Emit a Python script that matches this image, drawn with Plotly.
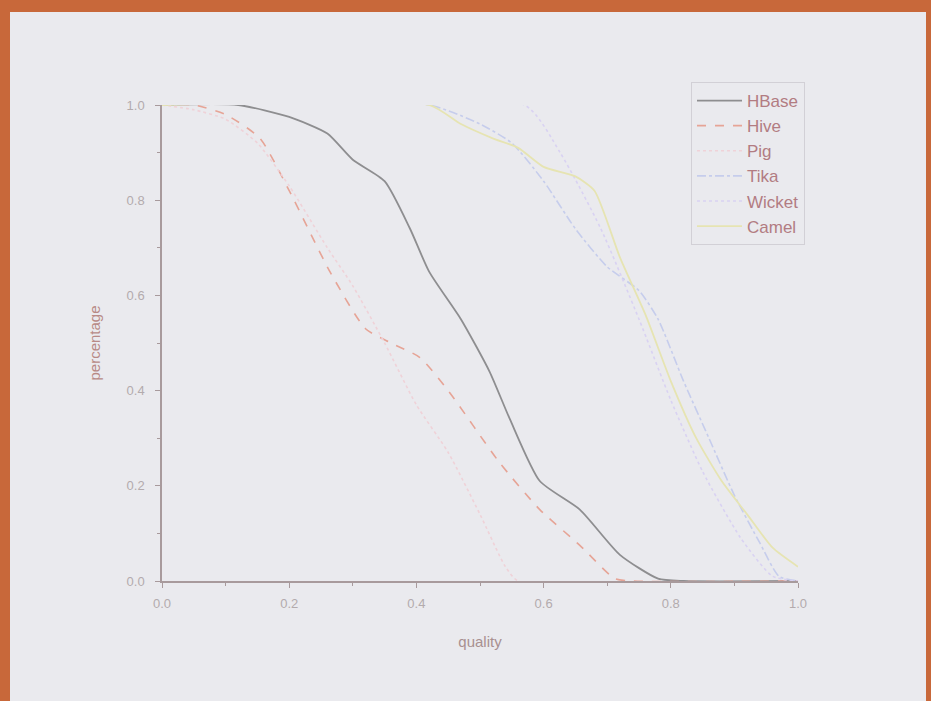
import plotly.graph_objects as go

# ---- data ----
hbase_x = [0.0, 0.12, 0.2, 0.26, 0.30, 0.35, 0.39, 0.42, 0.47, 0.515, 0.547, 0.594, 0.657, 0.72, 0.78, 0.82, 1.0]
hbase_y = [1.0, 1.0, 0.975, 0.94, 0.885, 0.84, 0.74, 0.65, 0.55, 0.44, 0.34, 0.21, 0.15, 0.055, 0.005, 0.0, 0.0]

hive_x = [0.0, 0.05, 0.1, 0.154, 0.2, 0.264, 0.32, 0.36, 0.405, 0.45, 0.53, 0.594, 0.657, 0.712, 0.74, 1.0]
hive_y = [1.0, 1.0, 0.98, 0.93, 0.82, 0.65, 0.53, 0.50, 0.47, 0.40, 0.25, 0.15, 0.075, 0.005, 0.0, 0.0]

pig_x = [0.0, 0.05, 0.1, 0.15, 0.2, 0.26, 0.3, 0.35, 0.4, 0.45, 0.5, 0.54, 0.56, 1.0]
pig_y = [1.0, 0.99, 0.97, 0.92, 0.83, 0.70, 0.62, 0.50, 0.37, 0.27, 0.14, 0.03, 0.0, 0.0]

tika_x = [0.0, 0.42, 0.5, 0.55, 0.6, 0.65, 0.7, 0.75, 0.78, 0.82, 0.86, 0.9, 0.94, 0.97, 1.0]
tika_y = [1.0, 1.0, 0.96, 0.92, 0.84, 0.74, 0.66, 0.61, 0.55, 0.42, 0.30, 0.18, 0.08, 0.01, 0.0]

wicket_x = [0.0, 0.57, 0.626, 0.69, 0.75, 0.80, 0.85, 0.91, 0.96, 1.0]
wicket_y = [1.0, 1.0, 0.90, 0.74, 0.55, 0.38, 0.23, 0.09, 0.01, 0.0]

camel_x = [0.0, 0.42, 0.47, 0.52, 0.56, 0.6, 0.65, 0.68, 0.72, 0.76, 0.8, 0.84, 0.88, 0.92, 0.96, 1.0]
camel_y = [1.0, 1.0, 0.96, 0.93, 0.91, 0.87, 0.85, 0.82, 0.68, 0.56, 0.42, 0.30, 0.21, 0.14, 0.07, 0.03]

tick_vals = [0.0, 0.2, 0.4, 0.6, 0.8, 1.0]
tick_text = ["0.0", "0.2", "0.4", "0.6", "0.8", "1.0"]

series = [
    ("HBase", hbase_x, hbase_y, "#8e8e90", "solid", 1.8),
    ("Hive", hive_x, hive_y, "#e6a496", "dash", 1.6),
    ("Pig", pig_x, pig_y, "#efd2d8", "dot", 1.6),
    ("Tika", tika_x, tika_y, "#c6cdec", "dashdot", 1.6),
    ("Wicket", wicket_x, wicket_y, "#d9d2f2", "dot", 1.6),
    ("Camel", camel_x, camel_y, "#e6e4b2", "solid", 1.8),
]

fig = go.Figure()
for name, xs, ys, col, dash, w in series:
    fig.add_trace(go.Scatter(
        x=xs, y=ys, name=name, mode="lines",
        line=dict(color=col, dash=dash, width=w, shape="spline", smoothing=0.6),
    ))

W, H = 931, 701
L, R, T, B = 162, 133, 105, 120
pw, ph = W - L - R, H - T - B

def px2paper_x(p):
    return (p - L) / pw

def px2paper_y(p):
    return 1 + (T - p) / ph

axis_col = "#a89a9c"
tick_font = dict(family="Liberation Sans, Arial", size=13, color="#b3abad")

fig.update_layout(
    width=W, height=H,
    margin=dict(l=L, r=R, t=T, b=B),
    paper_bgcolor="#c8683a",
    plot_bgcolor="rgba(0,0,0,0)",
    showlegend=True,
    legend=dict(
        x=px2paper_x(691), y=px2paper_y(82), xanchor="left", yanchor="top",
        bgcolor="rgba(0,0,0,0)", bordercolor="#d2d0d6", borderwidth=1,
        font=dict(family="Liberation Sans, Arial", size=17, color="#b27c82"),
        tracegroupgap=0, itemwidth=45,
    ),
    shapes=[
        dict(type="rect", xref="paper", yref="paper", layer="below",
             x0=px2paper_x(10), x1=px2paper_x(926),
             y0=px2paper_y(705), y1=px2paper_y(12),
             fillcolor="#eaeaee", line=dict(width=0)),
    ],
    xaxis=dict(
        range=[0, 1.0], tickmode="array", tickvals=tick_vals, ticktext=tick_text,
        showgrid=False, zeroline=False, showline=True, linecolor=axis_col, linewidth=1.5,
        ticks="outside", ticklen=5, tickcolor=axis_col, tickfont=tick_font,
        ticklabelstandoff=5,
        minor=dict(ticks="outside", ticklen=3, tickcolor=axis_col, dtick=0.1),
        title=dict(text="quality", font=dict(family="Liberation Sans, Arial", size=15, color="#a89090"), standoff=26),
    ),
    yaxis=dict(
        range=[0, 1.0], tickmode="array", tickvals=tick_vals, ticktext=tick_text,
        showgrid=False, zeroline=False, showline=True, linecolor=axis_col, linewidth=1.5,
        ticks="outside", ticklen=5, tickcolor=axis_col, tickfont=tick_font,
        ticklabelstandoff=8,
        minor=dict(ticks="outside", ticklen=3, tickcolor=axis_col, dtick=0.1),
        title=dict(text="percentage", font=dict(family="Liberation Sans, Arial", size=15, color="#b88a86"), standoff=22),
    ),
)

fig.write_html("out.html", config={"displayModeBar": False},
               post_script="document.body.style.margin='0';document.body.style.overflow='hidden';")
